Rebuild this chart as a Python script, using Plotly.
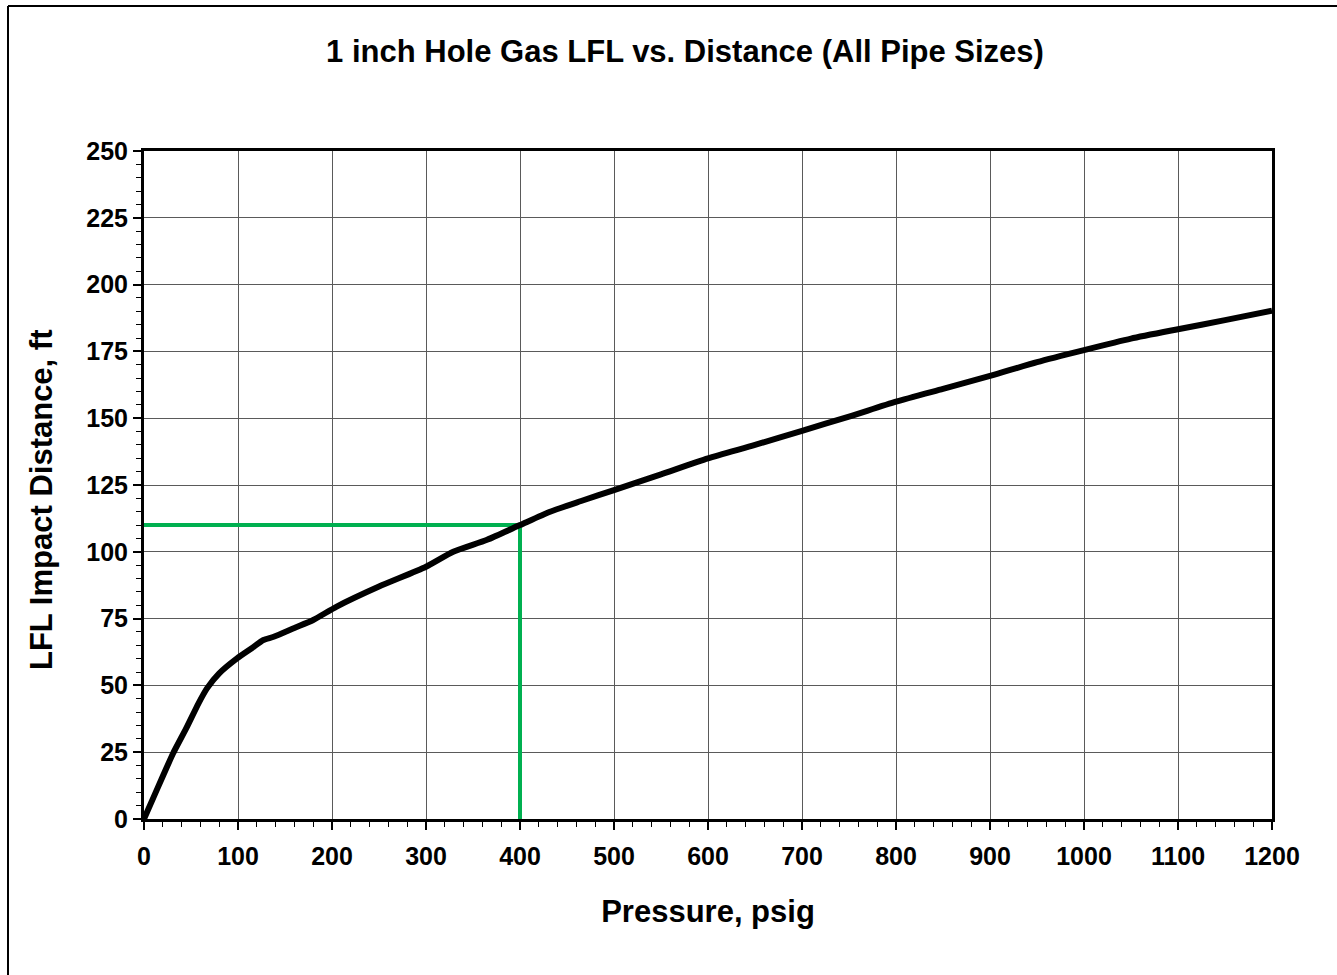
import plotly.graph_objects as go

pressure = [0, 10, 20, 31, 45, 58, 67, 80, 99, 115, 127, 138, 160, 180, 205, 250, 300, 329, 365, 400,
            432, 465, 500, 550, 600, 650, 700, 750, 800, 850, 900, 950, 1000, 1050, 1100, 1150, 1200]
distance = [0, 8, 16, 24.6, 34, 43.3, 48.9, 54.5, 60.1, 64, 67, 68.2, 71.5, 74.5, 79.5, 87, 94.4, 100, 104.5, 110,
            115, 119, 123.1, 129, 135, 140, 145.3, 150.6, 156.2, 161, 165.8, 171, 175.5, 179.8, 183.3, 186.7, 190.2]

marker_x = [0, 400, 400]
marker_y = [110, 110, 0]

x_ticks = list(range(0, 1201, 100))
y_ticks = list(range(0, 251, 25))

FONT = "Liberation Sans, Arial, sans-serif"

fig = go.Figure()
fig.add_trace(go.Scatter(x=marker_x, y=marker_y, mode="lines",
                         line=dict(color="#00B050", width=4), hoverinfo="skip"))
fig.add_trace(go.Scatter(x=pressure, y=distance, mode="lines",
                         line=dict(color="black", width=6, shape="spline", smoothing=0.6)))

L, R, T, B = 144, 65, 151, 156
W, H = 1337, 975
pw, ph = W - L - R, H - T - B

def px2paper_x(px):
    return (px - L) / pw

def py2paper_y(py):
    return (H - B - py) / ph

bx = px2paper_x(8)
by = py2paper_y(6)

fig.update_layout(
    width=W, height=H,
    margin=dict(l=L, r=R, t=T, b=B),
    paper_bgcolor="white", plot_bgcolor="white",
    showlegend=False,
    font=dict(family=FONT, color="black"),
    title=dict(text="<b>1 inch Hole Gas LFL vs. Distance (All Pipe Sizes)</b>",
               x=685 / W, xref="container", xanchor="center",
               y=1 - 51 / H, yanchor="middle",
               font=dict(size=31, family=FONT, color="black")),
    xaxis=dict(range=[0, 1200], tickvals=x_ticks, ticktext=["<b>%d</b>" % v for v in x_ticks],
               showgrid=True, gridcolor="#5a5a5a", gridwidth=1,
               showline=True, linecolor="black", linewidth=3, mirror=True,
               ticks="outside", ticklen=8, tickwidth=1.5, tickcolor="black",
               minor=dict(dtick=20, ticks="outside", ticklen=5, tickwidth=1.2, tickcolor="black", showgrid=False),
               tickfont=dict(size=25, family=FONT, color="black"),
               ticklabelstandoff=5,
               title=dict(text="<b>Pressure, psig</b>", font=dict(size=31, family=FONT, color="black"), standoff=32),
               zeroline=False, fixedrange=True),
    yaxis=dict(range=[0, 250], tickvals=y_ticks, ticktext=["<b>%d</b>" % v for v in y_ticks],
               showgrid=True, gridcolor="#5a5a5a", gridwidth=1,
               showline=True, linecolor="black", linewidth=3, mirror=True,
               ticks="outside", ticklen=8, tickwidth=1.5, tickcolor="black",
               minor=dict(dtick=5, ticks="outside", ticklen=5, tickwidth=1.2, tickcolor="black", showgrid=False),
               tickfont=dict(size=25, family=FONT, color="black"),
               zeroline=False, fixedrange=True),
    annotations=[
        dict(text="<b>LFL Impact Distance, ft</b>", xref="paper", yref="paper",
             x=px2paper_x(41), y=py2paper_y(500), xanchor="center", yanchor="middle",
             textangle=-90, showarrow=False,
             font=dict(size=31, family=FONT, color="black")),
    ],
    shapes=[
        dict(type="line", xref="paper", yref="paper", x0=bx, x1=2, y0=by, y1=by,
             line=dict(color="black", width=2), layer="above"),
        dict(type="line", xref="paper", yref="paper", x0=bx, x1=bx, y0=by, y1=-2,
             line=dict(color="black", width=2), layer="above"),
    ],
)

fig.write_html("out.html", config={"displayModeBar": False},
               post_script="document.body.style.margin='0';")
